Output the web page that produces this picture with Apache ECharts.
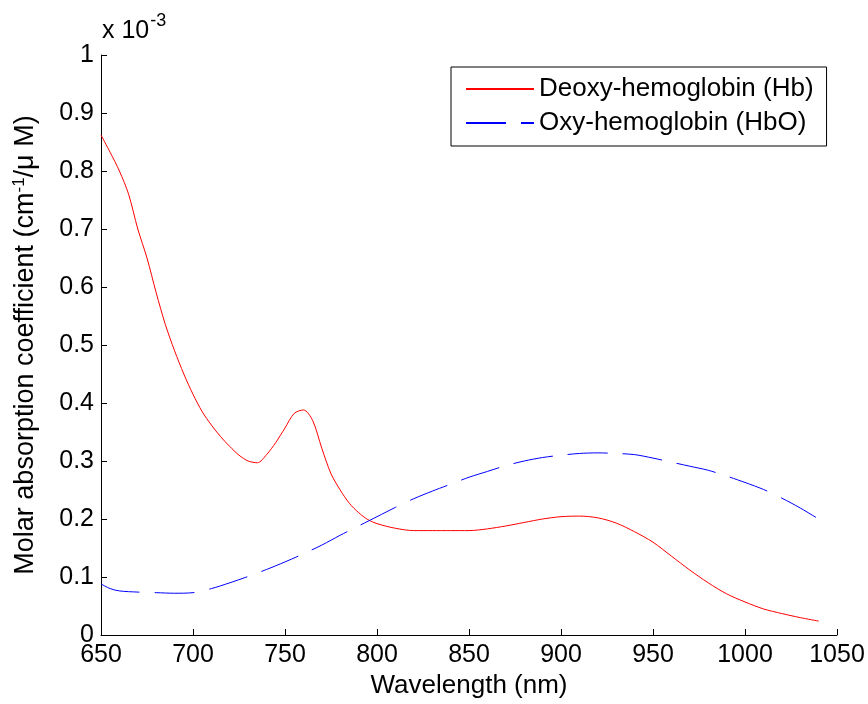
<!DOCTYPE html>
<html>
<head>
<meta charset="utf-8">
<script src="https://cdn.jsdelivr.net/npm/echarts@6/dist/echarts.min.js"></script>
<style>
  html, body { margin: 0; padding: 0; background: #fff; }
  #chart { width: 868px; height: 704px; }
</style>
</head>
<body>
<div id="chart"></div>
<script>
// Wavelength samples (nm) and molar absorption coefficients (x 10^-3 cm^-1/μM)
const hbWavelength = [650, 655, 660, 665, 670, 675, 680, 685, 690, 695, 700, 705, 710, 715, 720, 725, 730, 735, 740, 745, 750, 755, 760, 765, 770, 775, 780, 785, 790, 795, 800, 810, 820, 830, 840, 850, 860, 870, 880, 890, 900, 910, 920, 930, 940, 950, 960, 970, 980, 990, 1000, 1010, 1020, 1030, 1040];
const hbValues = [0.862, 0.832, 0.800, 0.760, 0.700, 0.650, 0.590, 0.535, 0.490, 0.450, 0.415, 0.385, 0.362, 0.342, 0.325, 0.310, 0.300, 0.297, 0.311, 0.332, 0.357, 0.382, 0.388, 0.370, 0.322, 0.278, 0.250, 0.227, 0.211, 0.199, 0.192, 0.184, 0.180, 0.180, 0.180, 0.180, 0.183, 0.188, 0.194, 0.200, 0.204, 0.205, 0.202, 0.193, 0.178, 0.160, 0.136, 0.112, 0.090, 0.071, 0.057, 0.045, 0.037, 0.030, 0.024];

const hbo2Wavelength = [650, 655, 660, 670, 680, 690, 700, 710, 720, 730, 740, 750, 760, 770, 780, 790, 800, 810, 820, 830, 840, 850, 860, 870, 880, 890, 900, 910, 920, 930, 940, 950, 960, 970, 980, 990, 1000, 1010, 1020, 1030, 1040];
const hbo2Values = [0.088, 0.080, 0.076, 0.074, 0.073, 0.072, 0.073, 0.080, 0.090, 0.101, 0.113, 0.126, 0.140, 0.155, 0.172, 0.188, 0.204, 0.220, 0.235, 0.248, 0.260, 0.272, 0.282, 0.292, 0.300, 0.306, 0.310, 0.313, 0.314, 0.313, 0.311, 0.305, 0.298, 0.291, 0.284, 0.274, 0.263, 0.251, 0.236, 0.219, 0.200];

const seriesNames = ['Deoxy-hemoglobin (Hb)', 'Oxy-hemoglobin (HbO)'];

const pair = (xs, ys) => xs.map((x, i) => [x, ys[i]]);

const FONT = 'Liberation Sans, Arial, sans-serif';
const chart = echarts.init(document.getElementById('chart'));

chart.setOption({
  animation: false,
  backgroundColor: '#fff',
  textStyle: { fontFamily: FONT, color: '#000' },
  grid: { left: 101, top: 55, width: 736, height: 580, containLabel: false },
  xAxis: {
    type: 'value',
    min: 650, max: 1050, interval: 50,
    name: 'Wavelength (nm)',
    nameLocation: 'middle',
    nameGap: 37,
    nameTextStyle: { fontSize: 26, color: '#000', fontFamily: FONT },
    axisLine: { show: true, onZero: false, lineStyle: { color: '#000', width: 1 } },
    axisTick: { show: true, inside: true, length: 6, lineStyle: { color: '#000' } },
    axisLabel: { fontSize: 25, color: '#000', margin: 8, fontFamily: FONT, formatter: v => String(v) },
    splitLine: { show: false }
  },
  yAxis: {
    type: 'value',
    min: 0, max: 1, interval: 0.1,
    name: 'Molar absorption coefficient (cm{sup|-1}/μ M)',
    nameLocation: 'middle',
    nameRotate: 90,
    nameGap: 60,
    nameTextStyle: {
      fontSize: 27, color: '#000', fontFamily: FONT, lineHeight: 30,
      rich: { sup: { fontSize: 17, fontFamily: FONT, color: '#000', verticalAlign: 'top', lineHeight: 16, padding: [0, 0, 12, 0] } }
    },
    axisLine: { show: true, onZero: false, lineStyle: { color: '#000', width: 1 } },
    axisTick: { show: true, inside: true, length: 6, lineStyle: { color: '#000' } },
    axisLabel: { fontSize: 25, color: '#000', margin: 7, fontFamily: FONT },
    splitLine: { show: false }
  },
  legend: {
    left: 451, top: 67,
    orient: 'vertical',
    data: seriesNames,
    itemWidth: 68, itemHeight: 14,
    itemGap: 4,
    padding: [7, 13, 8, 14],
    borderColor: '#000', borderWidth: 1,
    backgroundColor: '#fff',
    itemStyle: { opacity: 0 },
    textStyle: { fontSize: 26, color: '#000', fontFamily: FONT, lineHeight: 30 }
  },
  graphic: [{
    type: 'text',
    left: 102, top: 12,
    style: {
      text: '{a|x 10}{b|-3}',
      rich: {
        a: { fontSize: 25, fontFamily: FONT, fill: '#000', verticalAlign: 'bottom' },
        b: { fontSize: 18, fontFamily: FONT, fill: '#000', verticalAlign: 'top', padding: [0, 0, 14, 1] }
      }
    }
  }],
  series: [
    {
      name: seriesNames[0],
      type: 'line',
      data: pair(hbWavelength, hbValues),
      smooth: 0.3,
      symbol: 'none',
      lineStyle: { color: '#ff0000', width: 1 },
      itemStyle: { color: '#ff0000' }
    },
    {
      name: seriesNames[1],
      type: 'line',
      data: pair(hbo2Wavelength, hbo2Values),
      smooth: 0.3,
      symbol: 'none',
      lineStyle: { color: '#0000ff', width: 1, type: [40, 15] },
      itemStyle: { color: '#0000ff' }
    }
  ]
});
</script>
</body>
</html>
